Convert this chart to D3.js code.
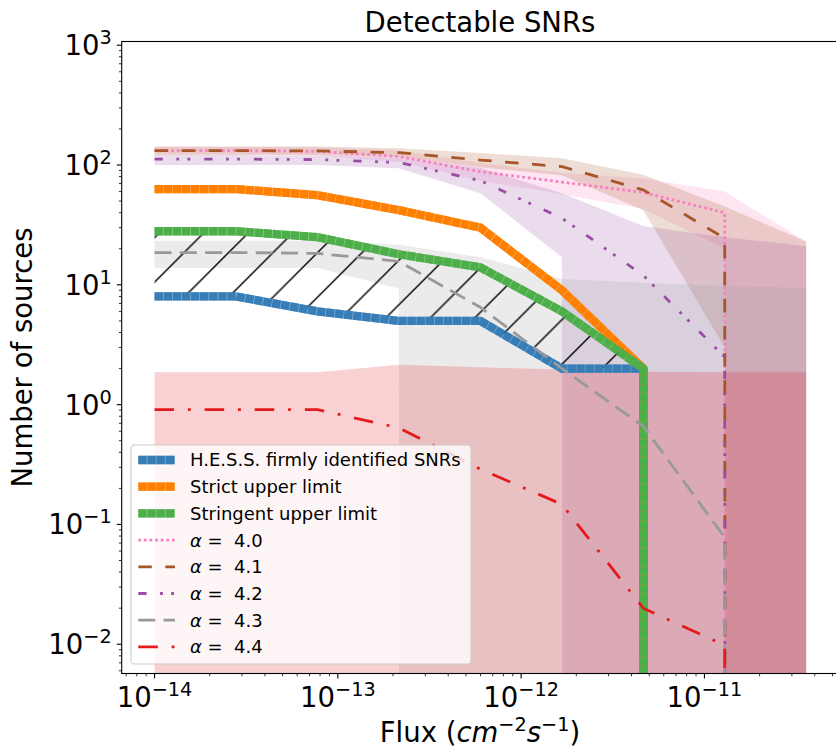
<!DOCTYPE html>
<html>
<head>
<meta charset="utf-8">
<script src="https://cdn.jsdelivr.net/npm/d3@7"></script>
<style>
  body { margin: 0; background: #fff; }
  text { font-family: "DejaVu Sans", sans-serif; white-space: pre; }
</style>
</head>
<body>
<div id="chart"></div>
<script>
// setting up constants
const FRAME_WIDTH = 836;
const FRAME_HEIGHT = 748;
const PLOT = {left: 121.7, right: 838.3, top: 41.5, bottom: 673.5};

// flux values where the counts were computed
const FLUX = [1.0e-14, 2.78e-14, 7.74e-14, 2.15e-13, 5.99e-13, 1.67e-12, 4.64e-12, 1.29e-11, 3.59e-11];

// observed counts (0 = nothing left, clipped on the log axis)
const HESS = [8, 8, 6, 5, 5, 2, 2, 0, 0];
const STRICT = [63, 63, 56, 42, 30, 9, 2, 0, 0];
const STRINGENT = [28, 28, 25, 18, 14, 6, 2, 0, 0];

// model curves, one per alpha
const A40 = [132, 132, 130, 118, 88, 72, 59, 40, 0];
const A41 = [132, 132, 131, 127, 110, 97, 62, 24.5, 0];
const A42 = [112, 112, 111, 105, 74, 36, 12, 2.5, 0];
const A43 = [18.6, 18.6, 18.3, 15.7, 6.5, 2.0, 0.66, 0.078, 0];
const A44 = [0.91, 0.91, 0.91, 0.64, 0.29, 0.147, 0.02, 0.0098, 0];

// bands round each model curve
const A40_UP = [142, 142, 141, 132, 104, 86, 77, 60, 23];
const A40_LO = [122, 122, 120, 106, 74, 57, 43, 20, 0];
const A41_UP = [143, 143, 143, 138, 126, 114, 83, 45, 23];
const A41_LO = [122, 122, 121, 116, 96, 82, 42, 3, 0];
const A42_UP = [121, 121, 120, 115, 95, 58, 31, 25, 21];
const A42_LO = [100, 100, 100, 94, 58, 17, 0, 0, 0];
const A43_UP = [23.3, 23.3, 23.3, 21.6, 17, 11.2, 10.4, 9.8, 9.4];
const A43_LO = [13.8, 13.8, 13.8, 9.3, 0, 0, 0, 0, 0];
const A44_UP = [1.86, 1.86, 1.86, 2.15, 2.05, 1.96, 1.88, 1.86, 1.86];
const A44_LO = [0, 0, 0, 0, 0, 0, 0, 0, 0];

// tick labels
const X_TICKS = [1e-14, 1e-13, 1e-12, 1e-11];
const X_TICK_EXP = ["\u221214", "\u221213", "\u221212", "\u221211"];
const Y_TICKS = [1e-2, 1e-1, 1e0, 1e1, 1e2, 1e3];
const Y_TICK_EXP = ["\u22122", "\u22121", "0", "1", "2", "3"];

const LEGEND_LABELS = ["H.E.S.S. firmly identified SNRs", "Strict upper limit", "Stringent upper limit",
    "4.0", "4.1", "4.2", "4.3", "4.4"];

// Set1 colours
const C = {blue: "#377eb8", orange: "#ff7f00", green: "#4daf4a", purple: "#984ea3",
    brown: "#a65628", pink: "#f781bf", gray: "#999999", red: "#e41a1c"};

const THICK_DASH = "8.4,0.7";
const MODELS = [
    {vals: A40, up: A40_UP, lo: A40_LO, color: C.pink, dash: "2.8,2.8"},
    {vals: A41, up: A41_UP, lo: A41_LO, color: C.brown, dash: "13.5,13.5"},
    {vals: A42, up: A42_UP, lo: A42_LO, color: C.purple, dash: "8.3,13.5,2.8,8.3,2.8,14"},
    {vals: A43, up: A43_UP, lo: A43_LO, color: C.gray, dash: "17,8.3"},
    {vals: A44, up: A44_UP, lo: A44_LO, color: C.red, dash: "19.5,13.9,2.8,13.9"}
];

const svg = d3.select("#chart")
    .append("svg")
        .attr("width", FRAME_WIDTH)
        .attr("height", FRAME_HEIGHT);

// scales
const xScale = d3.scaleLog()
    .domain([6.62e-15, 5.375e-11])
    .range([PLOT.left, PLOT.right]);
const yScale = d3.scaleLog()
    .domain([5.70e-3, 1074])
    .range([PLOT.bottom, PLOT.top]);

// zero on a log axis goes far below the frame, like matplotlib clipping
function yPos(v) { return v > 0 ? yScale(v) : 1e5; }

const defs = svg.append("defs");
defs.append("clipPath").attr("id", "plotclip")
    .append("rect")
        .attr("x", PLOT.left).attr("y", PLOT.top)
        .attr("width", PLOT.right - PLOT.left).attr("height", PLOT.bottom - PLOT.top);

// hatch "/" pattern
const HS = 44.5;
const hatch = defs.append("pattern")
    .attr("id", "hatch")
    .attr("patternUnits", "userSpaceOnUse")
    .attr("width", HS).attr("height", HS)
    .attr("patternTransform", "translate(36.2,0)");
hatch.append("path")
    .attr("d", `M0,${HS} L${HS},0 M-5,5 L5,-5 M${HS - 5},${HS + 5} L${HS + 5},${HS - 5}`)
    .attr("stroke", "#000").attr("stroke-width", 1.4);

const plot = svg.append("g").attr("clip-path", "url(#plotclip)");

const band = (up, lo) => d3.area()
    .x((d, i) => xScale(FLUX[i]))
    .y0((d, i) => yPos(lo[i]))
    .y1((d, i) => yPos(up[i]))(FLUX);
const line = vals => d3.line()
    .x((d, i) => xScale(FLUX[i]))
    .y(d => yPos(d))(vals);

// bands first
MODELS.forEach(m => {
    plot.append("path")
        .attr("d", band(m.up, m.lo))
        .attr("fill", m.color)
        .attr("fill-opacity", 0.2);
});

// hatched area between the HESS count and the stringent limit
plot.append("path")
    .attr("d", band(STRINGENT, HESS))
    .attr("fill", "url(#hatch)");

// thick observed lines: faint solid underlay, then the segmented stroke
[[HESS, C.blue], [STRICT, C.orange], [STRINGENT, C.green]].forEach(([vals, color]) => {
    plot.append("path")
        .attr("d", line(vals))
        .attr("fill", "none")
        .attr("stroke", color)
        .attr("stroke-opacity", 0.6)
        .attr("stroke-width", 8.3)
        .attr("stroke-linejoin", "round");
    plot.append("path")
        .attr("d", line(vals))
        .attr("fill", "none")
        .attr("stroke", color)
        .attr("stroke-width", 8.3)
        .attr("stroke-dasharray", THICK_DASH)
        .attr("stroke-linejoin", "round");
});

// model lines
MODELS.forEach(m => {
    plot.append("path")
        .attr("d", line(m.vals))
        .attr("fill", "none")
        .attr("stroke", m.color)
        .attr("stroke-width", 2.78)
        .attr("stroke-dasharray", m.dash)
        .attr("stroke-linejoin", "round");
});

// axes: spines
svg.append("rect")
    .attr("x", PLOT.left).attr("y", PLOT.top)
    .attr("width", PLOT.right - PLOT.left).attr("height", PLOT.bottom - PLOT.top)
    .attr("fill", "none").attr("stroke", "#000").attr("stroke-width", 1.1);

// minor ticks 2..9 in each decade
function minorTicks(lo, hi) {
    const out = [];
    for (let e = Math.floor(Math.log10(lo)); e <= Math.ceil(Math.log10(hi)); e++) {
        for (let k = 2; k <= 9; k++) {
            const v = k * Math.pow(10, e);
            if (v >= lo && v <= hi) out.push(v);
        }
    }
    return out;
}
const xd = xScale.domain(), yd = yScale.domain();

svg.append("g").selectAll("line")
    .data(minorTicks(xd[0], xd[1]))
    .enter().append("line")
        .attr("x1", d => xScale(d)).attr("x2", d => xScale(d))
        .attr("y1", PLOT.bottom).attr("y2", PLOT.bottom + 2.8)
        .attr("stroke", "#000").attr("stroke-width", 0.8);
svg.append("g").selectAll("line")
    .data(X_TICKS)
    .enter().append("line")
        .attr("x1", d => xScale(d)).attr("x2", d => xScale(d))
        .attr("y1", PLOT.bottom).attr("y2", PLOT.bottom + 4.9)
        .attr("stroke", "#000").attr("stroke-width", 1.1);
svg.append("g").selectAll("line")
    .data(minorTicks(yd[0], yd[1]))
    .enter().append("line")
        .attr("y1", d => yScale(d)).attr("y2", d => yScale(d))
        .attr("x1", PLOT.left).attr("x2", PLOT.left - 2.8)
        .attr("stroke", "#000").attr("stroke-width", 0.8);
svg.append("g").selectAll("line")
    .data(Y_TICKS)
    .enter().append("line")
        .attr("y1", d => yScale(d)).attr("y2", d => yScale(d))
        .attr("x1", PLOT.left).attr("x2", PLOT.left - 4.9)
        .attr("stroke", "#000").attr("stroke-width", 1.1);

const FS = 27.5;
// x tick labels  10^{-14}
X_TICKS.forEach((v, i) => {
    const t = svg.append("text")
        .attr("x", xScale(v)).attr("y", 706.5)
        .attr("text-anchor", "middle")
        .attr("font-size", FS);
    t.append("tspan").text("10");
    t.append("tspan").attr("dy", -11).attr("font-size", FS * 0.7).text(X_TICK_EXP[i]);
});
// y tick labels
Y_TICKS.forEach((v, i) => {
    const t = svg.append("text")
        .attr("x", PLOT.left - 10).attr("y", yScale(v) + 10)
        .attr("text-anchor", "end")
        .attr("font-size", FS);
    t.append("tspan").text("10");
    t.append("tspan").attr("dy", -11).attr("font-size", FS * 0.7).text(Y_TICK_EXP[i]);
});

// title and axis labels
svg.append("text")
    .attr("x", (PLOT.left + PLOT.right) / 2).attr("y", 32)
    .attr("text-anchor", "middle").attr("font-size", FS)
    .text("Detectable SNRs");

const xl = svg.append("text")
    .attr("x", (PLOT.left + PLOT.right) / 2).attr("y", 742)
    .attr("text-anchor", "middle").attr("font-size", FS);
xl.append("tspan").text("Flux (");
xl.append("tspan").attr("font-style", "italic").text("cm");
xl.append("tspan").attr("dy", -11).attr("font-size", FS * 0.7).text("\u22122");
xl.append("tspan").attr("dy", 11).attr("font-style", "italic").text("s");
xl.append("tspan").attr("dy", -11).attr("font-size", FS * 0.7).text("\u22121");
xl.append("tspan").attr("dy", 11).text(")");

svg.append("text")
    .attr("transform", `translate(32,${(PLOT.top + PLOT.bottom) / 2}) rotate(-90)`)
    .attr("text-anchor", "middle").attr("font-size", FS)
    .text("Number of sources");

// legend
const LEG = {x: 131, y: 445, w: 340, h: 219, row: 26.7, first: 460};
const legend = svg.append("g");
legend.append("rect")
    .attr("x", LEG.x).attr("y", LEG.y)
    .attr("width", LEG.w).attr("height", LEG.h)
    .attr("rx", 3.6)
    .attr("fill", "#fff").attr("fill-opacity", 0.8)
    .attr("stroke", "#cccccc").attr("stroke-width", 1.1);

const handles = [
    {color: C.blue, w: 8.3, dash: THICK_DASH, thick: true},
    {color: C.orange, w: 8.3, dash: THICK_DASH, thick: true},
    {color: C.green, w: 8.3, dash: THICK_DASH, thick: true}
].concat(MODELS.map(m => ({color: m.color, w: 2.78, dash: m.dash, thick: false})));

handles.forEach((h, i) => {
    const cy = LEG.first + i * LEG.row;
    if (h.thick) {
        legend.append("line")
            .attr("x1", 138.3).attr("x2", 175)
            .attr("y1", cy).attr("y2", cy)
            .attr("stroke", h.color).attr("stroke-opacity", 0.6)
            .attr("stroke-width", h.w);
    }
    legend.append("line")
        .attr("x1", 138.3).attr("x2", 175)
        .attr("y1", cy).attr("y2", cy)
        .attr("stroke", h.color).attr("stroke-width", h.w)
        .attr("stroke-dasharray", h.dash);
    const t = legend.append("text")
        .attr("x", 190).attr("y", cy + 6.4)
        .attr("font-size", 18);
    if (i < 3) {
        t.text(LEGEND_LABELS[i]);
    } else {
        t.append("tspan").attr("font-style", "italic").text("\u03b1");
        t.append("tspan").text(" =  " + LEGEND_LABELS[i]);
    }
});
</script>
</body>
</html>
